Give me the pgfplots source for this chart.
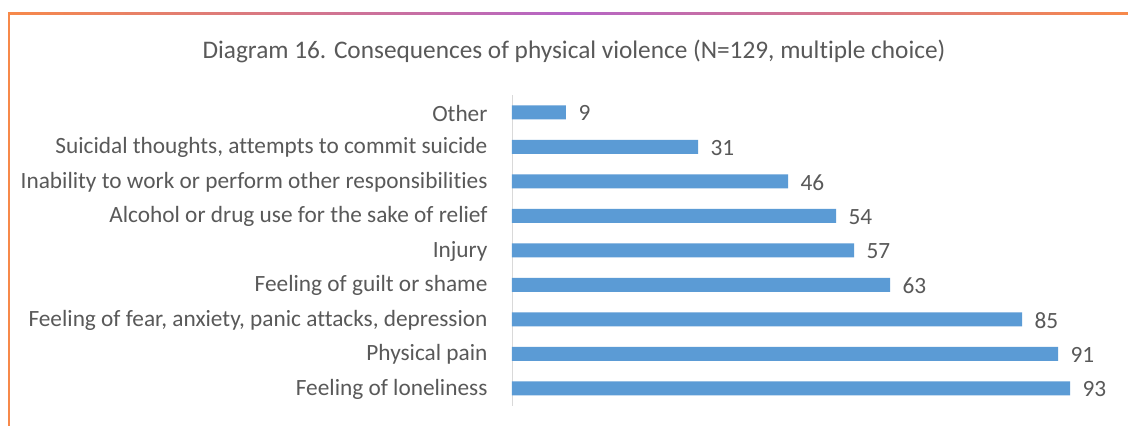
\documentclass[border=0pt]{standalone}
\usepackage{pgfplots}
\pgfplotsset{compat=1.18}
\usepackage{fontspec}
\setmainfont{Carlito}[Ligatures=NoCommon]
\definecolor{barblue}{HTML}{5B9BD5}
\definecolor{txtgray}{HTML}{595959}
\definecolor{axgray}{HTML}{D9D9D9}
\definecolor{frameorange}{HTML}{F7894A}
\definecolor{framepurple}{HTML}{B565C6}
\begin{document}
\begin{tikzpicture}[x=1pt,y=1pt]
\useasboundingbox[fill=white] (0,0) rectangle (1128,426);
% frame
\fill[frameorange] (8,0) rectangle (10.2,413.5);
\shade[left color=frameorange, right color=frameorange, middle color=framepurple] (8,411.5) rectangle (1128,413.7);
\node[text=txtgray, font=\fontsize{25.3}{28}\selectfont, anchor=center] at (574,375) {Diagram 16. Consequences of physical violence (N=129, multiple choice)};
\begin{axis}[
  at={(512pt,20.5pt)}, anchor=south west,
  scale only axis,
  width=600pt, height=310.5pt,
  xbar, bar width=14pt,
  xmin=0, xmax=100,
  ymin=-0.5, ymax=8.5,
  axis x line=none,
  axis y line*=left,
  y axis line style={axgray, line width=0.8pt, -},
  ytick={0,...,8},
  yticklabels={Feeling of loneliness, Physical pain, {Feeling of fear, anxiety, panic attacks, depression}, Feeling of guilt or shame, Injury, Alcohol or drug use for the sake of relief, Inability to work or perform other responsibilities, {Suicidal thoughts, attempts to commit suicide}, Other},
  major tick length=0pt,
  yticklabel style={text=txtgray, font=\fontsize{23.3}{26}\selectfont, xshift=-21pt, yshift=-1pt},
  nodes near coords,
  every node near coord/.append style={text=txtgray, font=\fontsize{23.3}{26}\selectfont, xshift=9pt, yshift=-1pt},
  /pgf/number format/assume math mode=true,
  clip=false,
]
\addplot[fill=barblue, draw=none] coordinates {
(93,0) (91,1) (85,2) (63,3) (57,4) (54,5) (46,6) (31,7) (9,8)};
\end{axis}
\end{tikzpicture}
\end{document}
